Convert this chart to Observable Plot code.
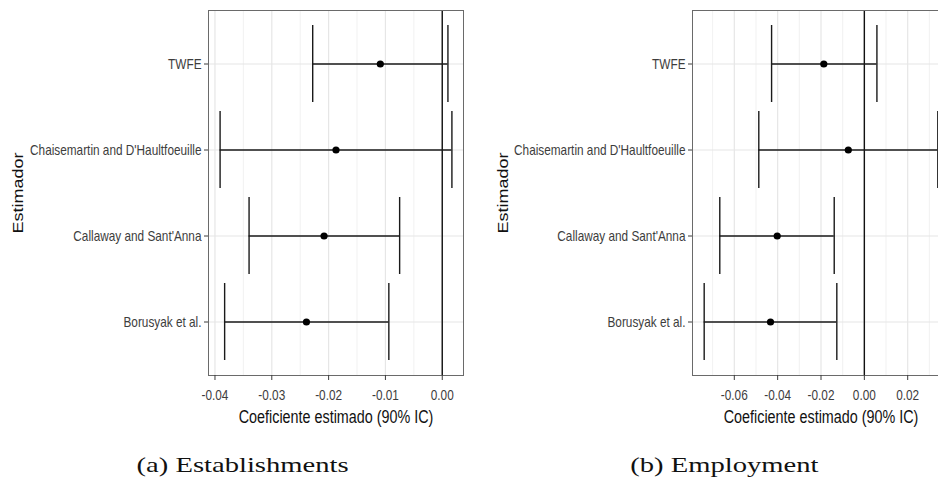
<!DOCTYPE html>
<html>
<head>
<meta charset="utf-8">
<script src="https://cdn.jsdelivr.net/npm/d3@7"></script>
<script src="https://cdn.jsdelivr.net/npm/@observablehq/plot@0.6"></script>
<style>
  html, body { margin: 0; padding: 0; background: #fff; overflow: hidden; }
  #fig { position: relative; width: 938px; height: 487px; overflow: hidden; }
  .panel { position: absolute; top: 0; width: 500px; }
  .panel svg { max-width: none !important; display: block; }
  .caption {
    position: absolute; top: 452px; width: 300px; text-align: center;
    font-family: "Liberation Serif", serif; font-size: 22px; color: #111;
  }
  .caption span { display: inline-block; transform: scaleX(1.3); }
</style>
</head>
<body>
<div id="fig">
  <div class="panel" id="left" style="left:0px"></div>
  <div class="panel" id="right" style="left:470px"></div>
  <div class="caption" style="left:93px"><span>(a) Establishments</span></div>
  <div class="caption" style="left:574px"><span>(b) Employment</span></div>
</div>
<script>
// Estimators, top to bottom
const estimators = ["TWFE", "Chaisemartin and D'Haultfoeuille", "Callaway and Sant'Anna", "Borusyak et al."];

// (a) Establishments: point estimate and 90% interval
const estabEst = [-0.0109, -0.0187, -0.0208, -0.0239];
const estabLo  = [-0.0228, -0.0391, -0.0340, -0.0383];
const estabHi  = [ 0.0010,  0.0017, -0.0075, -0.0094];

// (b) Employment: point estimate and 90% interval
const empEst = [-0.0187, -0.0074, -0.0402, -0.0433];
const empLo  = [-0.0428, -0.0487, -0.0667, -0.0739];
const empHi  = [ 0.0058,  0.0339, -0.0139, -0.0127];

// Axis ticks (major) and minor grid positions
const estabTicks = [-0.04, -0.03, -0.02, -0.01, 0.00];
const estabMinor = [-0.035, -0.025, -0.015, -0.005];
const empTicks = [-0.06, -0.04, -0.02, 0.00, 0.02];
const empMinor = [-0.07, -0.05, -0.03, -0.01, 0.01, 0.03];

const xTitle = "Coeficiente estimado (90% IC)";
const yTitle = "Estimador";

// Horizontal squeeze applied to every label (narrow sans look)
const SQUEEZE = 0.82;

function rowsOf(est, lo, hi) {
  return estimators.map((name, i) => ({name, est: est[i], lo: lo[i], hi: hi[i]}));
}

// x domain: data range expanded by 5% on each side
function expanded(rows) {
  const lo = d3.min(rows, d => d.lo), hi = d3.max(rows, d => d.hi);
  const pad = (hi - lo) * 0.05;
  return [lo - pad, hi + pad];
}

function squeeze(svg, k) {
  svg.querySelectorAll("text").forEach(t => {
    const tr = t.getAttribute("transform") || "";
    const x = +(t.getAttribute("x") || 0);
    const s = /rotate/.test(tr)
      ? `scale(1,${k})`
      : `translate(${x},0) scale(${k},1) translate(${-x},0)`;
    t.setAttribute("transform", `${tr} ${s}`.trim());
  });
}

function panel(rows, ticks, minor, opts) {
  const svg = Plot.plot({
    width: opts.width,
    height: 440,
    marginLeft: opts.marginLeft,
    marginRight: opts.marginRight,
    marginTop: 10,
    marginBottom: 65,
    style: {fontFamily: "'Liberation Sans', Arial, sans-serif", fontSize: "14.4px",
      background: "#fff", maxWidth: "none"},
    x: {domain: expanded(rows)},
    y: {type: "band", domain: estimators, paddingInner: 0.1, paddingOuter: 0.15},
    marks: [
      Plot.gridX(minor, {stroke: "#ebebeb", strokeOpacity: 1, strokeWidth: 0.7}),
      Plot.gridX(ticks, {stroke: "#e6e6e6", strokeOpacity: 1, strokeWidth: 1.2}),
      Plot.gridY({stroke: "#e6e6e6", strokeOpacity: 1, strokeWidth: 1.2}),
      Plot.ruleX([0], {stroke: "#111", strokeWidth: 1.4}),
      Plot.ruleY(rows, {y: "name", x1: "lo", x2: "hi", stroke: "#1a1a1a", strokeWidth: 1.4}),
      Plot.tickX(rows, {x: "lo", y: "name", stroke: "#1a1a1a", strokeWidth: 1.4}),
      Plot.tickX(rows, {x: "hi", y: "name", stroke: "#1a1a1a", strokeWidth: 1.4}),
      Plot.dot(rows, {x: "est", y: "name", r: 3.6, fill: "#000", stroke: "none"}),
      Plot.frame({stroke: "#6a6a6a", strokeWidth: 1}),
      Plot.axisX({ticks, tickFormat: d => d.toFixed(2), tickSize: 5, tickPadding: 9,
        label: null, color: "#3d3d3d"}),
      Plot.axisY({tickSize: 4, tickPadding: 3, label: null, color: "#3d3d3d"}),
      Plot.text([xTitle], {frameAnchor: "bottom", lineAnchor: "middle", dy: 42,
        fontSize: 17.5, fill: "#111"}),
      Plot.text([yTitle], {frameAnchor: "left", textAnchor: "middle", dx: opts.yTitleDx,
        rotate: -90, fontSize: 18, fill: "#111"})
    ]
  });
  squeeze(svg, SQUEEZE);
  return svg;
}

document.getElementById("left").append(
  panel(rowsOf(estabEst, estabLo, estabHi), estabTicks, estabMinor,
    {width: 470, marginLeft: 208, marginRight: 7, yTitleDx: -190})
);
document.getElementById("right").append(
  panel(rowsOf(empEst, empLo, empHi), empTicks, empMinor,
    {width: 490, marginLeft: 222, marginRight: 11, yTitleDx: -189})
);
</script>
</body>
</html>
